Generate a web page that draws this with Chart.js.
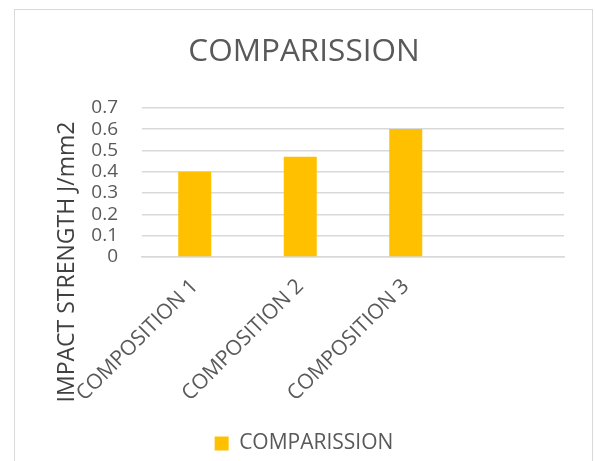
<!DOCTYPE html>
<html>
<head>
<meta charset="utf-8">
<script src="https://cdn.jsdelivr.net/npm/chart.js@4"></script>
<style>
  body { margin: 0; background: #fff; }
  #frame { position: absolute; left: 14px; top: 9px; width: 577px; height: 480px; border: 1.5px solid #d9d9d9; border-bottom: none; }
  #chart { position: absolute; left: 0; top: 0; }
</style>
</head>
<body>
<div id="frame"></div>
<canvas id="chart" width="596" height="461"></canvas>
<script>
var categories = ["COMPOSITION 1", "COMPOSITION 2", "COMPOSITION 3", ""];
var impactValues = [0.4, 0.47, 0.6, null];
var yTicks = [0, 0.1, 0.2, 0.3, 0.4, 0.5, 0.6, 0.7];
var seriesName = "COMPARISSION";
var yTitle = "IMPACT STRENGTH J/mm2";

// y axis title drawn lower than the plot centre, as in the original
var yTitlePlugin = {
    id: "yTitle",
    afterDraw: function (chart) {
        var ctx = chart.ctx;
        ctx.save();
        ctx.translate(67, 262);
        ctx.rotate(-Math.PI / 2);
        ctx.font = "23px 'Open Sans'";
        ctx.fillStyle = "#404040";
        ctx.textAlign = "center";
        ctx.textBaseline = "middle";
        ctx.fillText(yTitle, 0, 0);
        ctx.restore();
    },
};

var ctx = document.getElementById("chart").getContext("2d");
new Chart(ctx, {
    type: "bar",
    data: {
        labels: categories,
        datasets: [
            {
                label: seriesName,
                data: impactValues,
                backgroundColor: "#FFC000",
                borderWidth: 0,
                barPercentage: 0.313,
                categoryPercentage: 1,
            },
        ],
    },
    options: {
        responsive: false,
        animation: false,
        layout: { padding: { left: 12, right: 0, top: 0, bottom: -3 } },
        plugins: {
            title: {
                display: true,
                text: seriesName,
                color: "#595959",
                font: { family: "'Open Sans'", size: 31.5, weight: "normal" },
                padding: { top: 33, bottom: 37 },
            },
            legend: {
                position: "bottom",
                labels: {
                    color: "#595959",
                    font: { family: "'Open Sans'", size: 21 },
                    boxWidth: 14,
                    boxHeight: 14,
                    padding: 10,
                },
            },
            tooltip: { enabled: false },
        },
        scales: {
            y: {
                min: yTicks[0],
                max: yTicks[yTicks.length - 1],
                afterBuildTicks: function (scale) {
                    scale.ticks = yTicks.map(function (v) { return { value: v }; });
                },
                ticks: {
                    autoSkip: false,
                    color: "#595959",
                    font: { family: "'Open Sans'", size: 19 },
                    padding: 24,
                    callback: function (v) { return String(v); },
                },
                grid: { color: "#d9d9d9", lineWidth: 1.5, drawTicks: false },
                border: { display: false },
                afterFit: function (scale) { scale.width = 130; },
            },
            yRight: {
                position: "right",
                display: true,
                ticks: { display: false },
                grid: { display: false, drawTicks: false },
                border: { display: false },
                afterFit: function (scale) { scale.width = 32; },
            },
            x: {
                ticks: {
                    color: "#595959",
                    font: { family: "'Open Sans'", size: 21 },
                    minRotation: 45,
                    maxRotation: 45,
                    autoSkip: false,
                    padding: 17,
                },
                grid: { display: false, drawTicks: false },
                border: { color: "#d9d9d9", width: 1.5 },
                afterFit: function (scale) { scale.height = 166; },
            },
        },
    },
    plugins: [yTitlePlugin],
});
</script>
</body>
</html>
